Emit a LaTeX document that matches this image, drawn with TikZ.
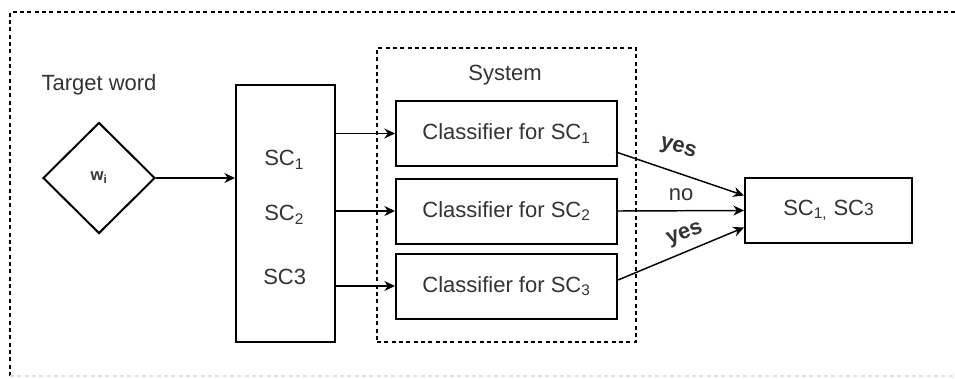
\documentclass[tikz,border=0pt]{standalone}
\usepackage{fontspec}
\setmainfont{Liberation Sans}
\usetikzlibrary{arrows.meta,calc,shapes.geometric}
\definecolor{txtgray}{HTML}{333333}

\begin{document}
\begin{tikzpicture}[x=0.75pt,y=-0.75pt,
		font=\fontsize{16.5}{19}\selectfont,
		box/.style={draw,line width=1.5pt,inner sep=0pt,text=txtgray},
		lbl/.style={inner sep=0pt,text=txtgray},
		arr/.style={line width=1.1pt,-{Stealth[length=8pt,width=7.5pt]}},
		dash box/.style={line width=1pt,dash pattern=on 3pt off 2.5pt}]
			%%%%% START %%%%%
			\useasboundingbox (0,0) rectangle (955,378);
			\draw[dash box] (10,376) -- (10,12) -- (960,12);
			\draw[dash box,black!12] (10,376) -- (955,376);
			
			\node[lbl] (tw) at (99,85) {Target word};
			\node[box,shape=diamond,minimum width=84pt,minimum height=83.25pt] (wi) at (99,178) {};
			\node[lbl,font=\fontsize{12.5}{14}\selectfont\bfseries] at (wi) {w\textsubscript{i}};
			
			\node[box,minimum width=74.25pt,minimum height=192.75pt] (sc) at (285.5,213.5) {};
			\node[lbl,anchor=west] (sc1) at (264,160) {SC\textsubscript{1}};
			\node[lbl,anchor=west] (sc2) at (264,215) {SC\textsubscript{2}};
			\node[lbl,anchor=west] (sc3) at (263,277) {SC3};
			
			\node[box,dash box,draw=black,minimum width=194.25pt,minimum height=220.5pt] (sys) at (506.5,195) {};
			\node[lbl] (systxt) at (505,75) {System};
			\node[box,minimum width=165.75pt,minimum height=48.75pt] (c1) at (506.5,133.5) {Classifier for SC\textsubscript{1}};
			\node[box,minimum width=165.75pt,minimum height=48.75pt] (c2) at (506.5,211) {Classifier for SC\textsubscript{2}};
			\node[box,minimum width=165.75pt,minimum height=48.75pt] (c3) at (506.5,286) {Classifier for SC\textsubscript{3}};
			
			\node[box,minimum width=125.25pt,minimum height=48.75pt] (res) at (828.5,210.5) {SC\textsubscript{1,} SC{\fontsize{13}{14}\selectfont 3}};
			
			\draw[arr] (wi.east) -- (wi.east -| sc.west);
			\draw[arr] (c1.west -| sc.east) -- (c1.west);
			\draw[arr] (c2.west -| sc.east) -- (c2.west);
			\draw[arr] (c3.west -| sc.east) -- (c3.west);
			
			\coordinate (o1) at ($(c1.east)+(-2,18.5)$);
			\coordinate (o3) at ($(c3.east)+(0,-6)$);
			\draw[arr] (o1) -- ($(res.west)+(0,-15)$);
			\draw[arr] (c2.east) -- (res.west);
			\draw[arr] (o3) -- ($(res.west)+(0,17)$);
			
			\node[lbl,font=\fontsize{16.5}{19}\selectfont\bfseries,rotate=-15] (y1) at (678,149) {yes};
			\node[lbl] (n2) at (681,195) {no};
			\node[lbl,font=\fontsize{16.5}{19}\selectfont\bfseries,rotate=20] (y3) at (685,235) {yes};
			%%%%% END %%%%%
		\end{tikzpicture}
\end{document}
